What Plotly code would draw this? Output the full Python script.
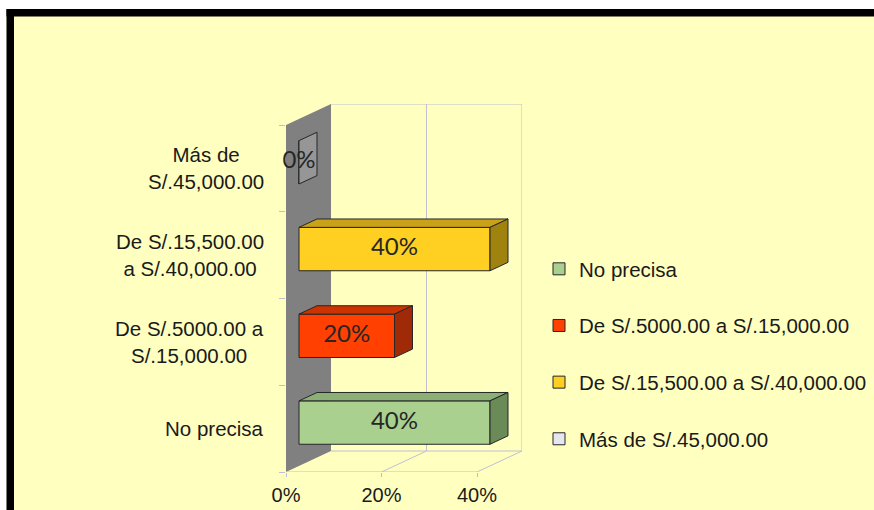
import plotly.graph_objects as go

# ---------------- data ----------------
categories = ["No precisa",
              "De S/.5000.00 a S/.15,000.00",
              "De S/.15,500.00 a S/.40,000.00",
              "Más de S/.45,000.00"]
axis_labels = ["No precisa",
               "De S/.5000.00 a<br>S/.15,000.00",
               "De S/.15,500.00<br>a S/.40,000.00",
               "Más de<br>S/.45,000.00"]
values = [40, 20, 40, 0]
value_labels = ["40%", "20%", "40%", "0%"]
x_tickvals = [0, 20, 40]
x_ticktext = ["0%", "20%", "40%"]

front_colors = ["#A9D08E", "#FF4000", "#FFD022", "#E6E6EE"]
top_colors = ["#8CAF76", "#CC3300", "#C9A219", "#B4B4B4"]
side_colors = ["#6A8A58", "#A02A08", "#A0820F", "#969696"]

# ---------------- geometry (pixels) ----------------
W, H = 874, 510
PL, PR, PT, PB = 286, 522, 104, 472          # plot box
px_per_pct = (477 - 286) / 40.0              # front plane x scale
px_per_cat = (472 - 125) / 4.0               # front plane y scale
DX = 45 / px_per_pct                         # depth offset in % units
DY = 21 / px_per_cat                         # depth offset in category units
XMAX = (PR - PL) / px_per_pct
YMAX = (PB - PT) / px_per_cat
d0, d1 = 13 / 45, 31 / 45                    # bar depth (front/back fraction)
half = 0.25                                  # half bar thickness
n = len(categories)

BG = "#FFFFC0"
GRID = "#BFBFD0"
EDGE = "#262626"
TXT = "#1A1A1A"
ARIAL = "Arial, Liberation Sans, sans-serif"


def px_x(p):
    return (p - PL) / (PR - PL)


def px_y(p):
    return (PB - p) / (PB - PT)


fig = go.Figure()

# front faces as real bars (also give the legend)
for i in range(n):
    c = i + 0.5
    fig.add_trace(go.Bar(
        x=[values[i]], y=[c + d0 * DY], base=[d0 * DX], orientation="h",
        width=2 * half, name=categories[i], legendgroup=categories[i],
        marker=dict(color=front_colors[i], line=dict(color=EDGE, width=1)),
        hoverinfo="skip"))

# top and side (end) faces
for i in range(n):
    c = i + 0.5
    v = values[i]
    t0, t1 = c + half + d0 * DY, c + half + d1 * DY
    b0, b1 = c - half + d0 * DY, c - half + d1 * DY
    xs0, xs1 = d0 * DX, d1 * DX
    if v > 0:
        fig.add_trace(go.Scatter(
            x=[xs0, v + xs0, v + xs1, xs1, xs0], y=[t0, t0, t1, t1, t0],
            mode="lines", fill="toself", fillcolor=top_colors[i],
            line=dict(color=EDGE, width=1), showlegend=False, hoverinfo="skip"))
    fig.add_trace(go.Scatter(
        x=[v + xs0, v + xs0, v + xs1, v + xs1, v + xs0], y=[b0, t0, t1, b1, b0],
        mode="lines", fill="toself", fillcolor=side_colors[i],
        line=dict(color=EDGE, width=1), showlegend=False, hoverinfo="skip"))

# data labels
fig.add_trace(go.Scatter(
    x=[v / 2 + d0 * DX for v in values],
    y=[i + 0.5 + d0 * DY for i in range(n)],
    mode="text", text=value_labels, cliponaxis=False,
    textfont=dict(family="Lato, Carlito, sans-serif", size=24, color="#262626"),
    showlegend=False, hoverinfo="skip"))

shapes = []
# side wall
shapes.append(dict(type="path", xref="x", yref="y", layer="below",
                   path=f"M 0,0 L 0,{n} L {DX},{n + DY} L {DX},{DY} Z",
                   fillcolor="#808080", line=dict(width=0)))
# grid lines on back wall and floor
ln = dict(color=GRID, width=1)
for t in x_tickvals[1:]:
    shapes.append(dict(type="line", xref="x", yref="y", layer="below",
                       x0=t + DX, x1=t + DX, y0=DY, y1=n + DY, line=ln))
    shapes.append(dict(type="line", xref="x", yref="y", layer="below",
                       x0=t, x1=t + DX, y0=0, y1=DY, line=ln))
shapes.append(dict(type="line", xref="x", yref="y", layer="below",
                   x0=DX, x1=x_tickvals[-1] + DX, y0=n + DY, y1=n + DY, line=ln))
shapes.append(dict(type="line", xref="x", yref="y", layer="below",
                   x0=DX, x1=x_tickvals[-1] + DX, y0=DY, y1=DY, line=ln))
shapes.append(dict(type="line", xref="x", yref="y", layer="below",
                   x0=0, x1=x_tickvals[-1], y0=0, y1=0, line=ln))

# chart-area frame (white outside, thick black border)
shapes.append(dict(type="rect", xref="paper", yref="paper", layer="above",
                   x0=px_x(-5), x1=px_x(6.5), y0=px_y(520), y1=px_y(-5),
                   fillcolor="white", line=dict(width=0)))
shapes.append(dict(type="rect", xref="paper", yref="paper", layer="above",
                   x0=px_x(-5), x1=px_x(880), y0=px_y(9), y1=px_y(-5),
                   fillcolor="white", line=dict(width=0)))
shapes.append(dict(type="rect", xref="paper", yref="paper", layer="above",
                   x0=px_x(6.5), x1=px_x(14), y0=px_y(520), y1=px_y(9),
                   fillcolor="black", line=dict(width=0)))
shapes.append(dict(type="rect", xref="paper", yref="paper", layer="above",
                   x0=px_x(6.5), x1=px_x(880), y0=px_y(16.5), y1=px_y(9),
                   fillcolor="black", line=dict(width=0)))

# category labels
annotations = []
for i in range(n):
    annotations.append(dict(
        x=0, y=i + 0.5, xref="x", yref="y", xanchor="right", yanchor="middle",
        xshift=-20, text=axis_labels[i], showarrow=False, align="center",
        font=dict(family=ARIAL, size=20.5, color=TXT)))

fig.update_layout(
    width=W, height=H,
    margin=dict(l=PL, r=W - PR, t=PT, b=H - PB, pad=0, autoexpand=False),
    paper_bgcolor=BG, plot_bgcolor=BG,
    barmode="overlay",
    showlegend=True,
    legend=dict(x=px_x(539), y=px_y(249), xanchor="left", yanchor="top",
                bgcolor="rgba(0,0,0,0)", tracegroupgap=27,
                font=dict(family=ARIAL, size=20.5, color=TXT),
                itemclick=False, itemdoubleclick=False),
    xaxis=dict(range=[0, XMAX], tickvals=x_tickvals, ticktext=x_ticktext,
               showgrid=False, zeroline=False, showline=False, automargin=False,
               ticks="outside", ticklen=4, tickcolor=GRID, ticklabelstandoff=1,
               tickfont=dict(family=ARIAL, size=20, color=TXT),
               fixedrange=True),
    yaxis=dict(range=[0, YMAX], tickvals=list(range(n + 1)), showticklabels=False,
               showgrid=False, zeroline=False, showline=False, automargin=False,
               ticks="outside", ticklen=6, tickcolor=GRID, fixedrange=True),
    shapes=shapes, annotations=annotations,
)

fig.write_html("out.html", config={"displayModeBar": False},
               post_script="document.body.style.margin='0px';"
                           "document.body.style.overflow='hidden';")
